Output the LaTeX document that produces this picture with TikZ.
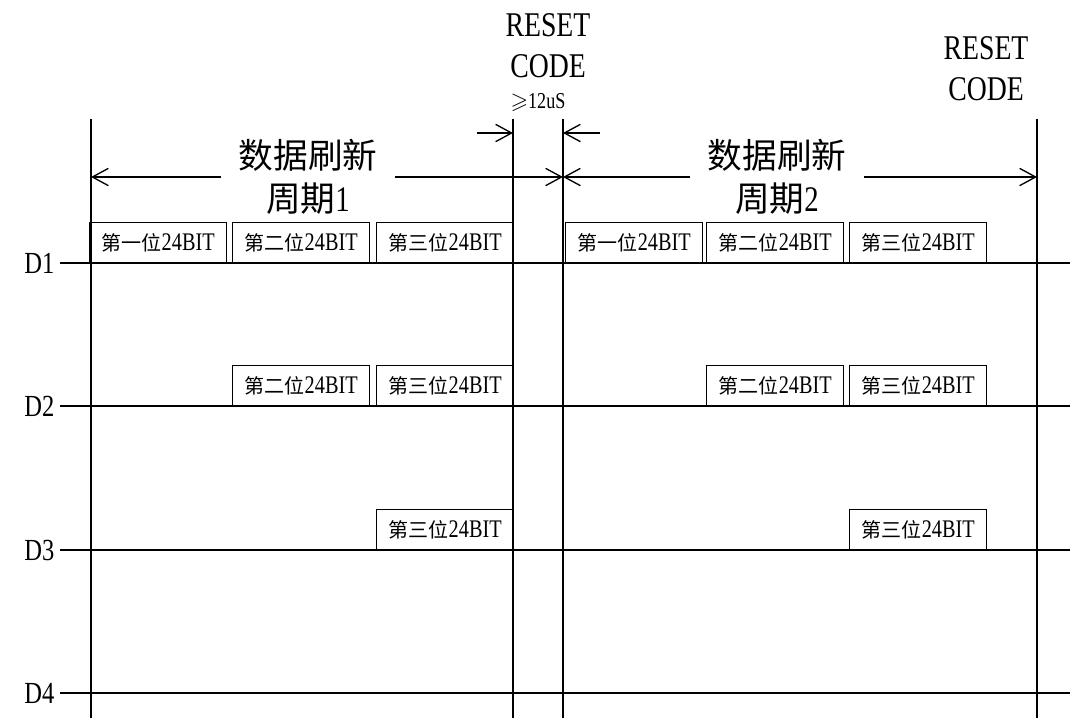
\documentclass[tikz,border=0pt]{standalone}
\usepackage{amssymb}
\usepackage{fontspec}
\setmainfont{Liberation Serif}[FakeStretch=0.8]
\newfontfamily\cjk{Noto Sans CJK SC}
\usetikzlibrary{arrows.meta}

\tikzset{
  sigline/.style={line width=1.6pt},
  bound/.style={line width=1pt},
  bitbox/.style={draw, line width=0.8pt, minimum width=103pt, minimum height=30pt,
    inner sep=0pt, anchor=south west, font=\fontsize{19}{19}\selectfont},
  span/.style={line width=1pt, -{Straight Barb[length=12pt,width=13pt,line width=1pt]}},
  head/.style={align=center, inner xsep=13pt, font=\fontsize{27}{32}\selectfont},
  resetlbl/.style={align=center, inner sep=0pt, font=\fontsize{26}{31}\selectfont},
}
\newcommand{\bitlabel}[1]{{\cjk\fontsize{15}{15}\selectfont #1}24BIT}
\newcommand{\zh}[1]{{\cjk\fontsize{26}{32}\selectfont #1}}

\begin{document}
\begin{tikzpicture}[x=0.75pt, y=-0.75pt]
    \useasboundingbox (0,0) rectangle (1070,718);

    % frame boundaries
    \foreach \name/\x in {sa/91, ra/513, sb/563, rb/1037} {
        \coordinate (\name top) at (\x,119);
        \coordinate (\name bot) at (\x,718);
        \draw[bound] (\name top) -- (\name bot);
    }

    % data lines
    \foreach \i/\y in {1/263, 2/406, 3/550, 4/693} {
        \node[anchor=east, inner sep=4pt, font=\fontsize{23}{23}\selectfont] (d\i) at (60,\y) {D\i};
        \coordinate (e\i) at (1070,\y);
        \draw[sigline] (d\i.east) -- (e\i);
    }

    % 24 bit packets
    \foreach \n/\x/\y/\txt in {a11/89/263/第一位, a12/232/263/第二位, a13/376/263/第三位,
                               a22/232/406/第二位, a23/376/406/第三位, a33/376/550/第三位,
                               b11/565/263/第一位, b12/706/263/第二位, b13/849/263/第三位,
                               b22/706/406/第二位, b23/849/406/第三位, b33/849/550/第三位} {
        \node[bitbox] (\n) at (\x,\y) {\bitlabel{\txt}};
    }

    % refresh periods
    \node[head] (heada) at (308,177) {\zh{数据刷新}\\\zh{周期}1};
    \node[head] (headb) at (777,177) {\zh{数据刷新}\\\zh{周期}2};
    \coordinate (sa mid) at (91,177);
    \coordinate (sb mid) at (563,177);
    \coordinate (rb mid) at (1037,177);
    \draw[span] (heada.west) -- (sa mid);
    \draw[span] (heada.east) -- (sb mid);
    \draw[span] (headb.west) -- (sb mid);
    \draw[span] (headb.east) -- (rb mid);

    % reset gap
    \coordinate (ra from) at (477,133);
    \coordinate (ra hit) at (513,133);
    \coordinate (sb from) at (600,133);
    \coordinate (sb hit) at (563,133);
    \draw[span] (ra from) -- (ra hit);
    \draw[span] (sb from) -- (sb hit);

    \node[resetlbl] (reseta) at (548,46) {RESET\\CODE};
    \node[font=\fontsize{17}{17}\selectfont, inner sep=0pt] (gapa) at (538,103) {$\geqslant$12uS};
    \node[resetlbl] (resetb) at (986,69) {RESET\\CODE};
\end{tikzpicture}
\end{document}
